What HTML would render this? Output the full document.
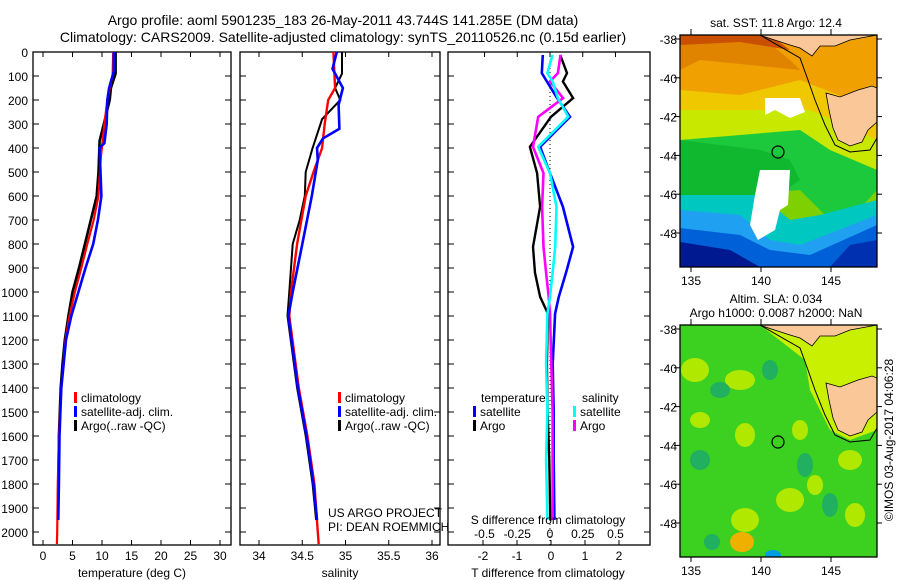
<!DOCTYPE html>
<html><head><meta charset="utf-8"><style>
body{margin:0;background:#fff;}
svg{display:block;font-family:"Liberation Sans",sans-serif;}
text{fill:#000;}
</style></head><body>
<svg id="c" width="900" height="580" viewBox="0 0 900 580">
<text x="343" y="25" font-size="14" text-anchor="middle">Argo profile: aoml 5901235_183 26-May-2011 43.744S 141.285E (DM data)</text>
<text x="343" y="42" font-size="14" text-anchor="middle">Climatology: CARS2009. Satellite-adjusted climatology: synTS_20110526.nc (0.15d earlier)</text>
<g id="maps"></g>
<g id="plots"></g>
<text transform="translate(893,440) rotate(-90)" font-size="12" text-anchor="middle">©IMOS 03-Aug-2017 04:06:28</text>
</svg>
<script>
// ---------- data ----------
const depthTicks=[0,100,200,300,400,500,600,700,800,900,1000,1100,1200,1300,1400,1500,1600,1700,1800,1900,2000];
const tempTicks=[0,5,10,15,20,25,30];
const salTicks=[34,34.5,35,35.5,36];
const salTickLabels=["34","34.5","35","35.5","36"];
const tdTicks=[-2,-1,0,1,2];
const sdTicks=[-0.5,-0.25,0,0.25,0.5];
const sdTickLabels=["-0.5","-0.25","0","0.25","0.5"];

const tArgoDepth=[0,90,150,200,300,370,500,600,700,800,900,1000,1100,1200,1300,1400,1600,1800,1950];
const tArgo=[12.3,12.3,11.5,11.3,10.3,9.6,9.4,9.1,8.1,7.1,6.1,5.0,4.3,3.7,3.3,3.0,2.7,2.6,2.5];
const tClimDepth=[0,100,200,300,440,600,700,800,900,1000,1100,1200,1400,1600,1800,2000,2050];
const tClim=[11.9,11.8,10.9,10.4,9.8,9.4,8.6,7.5,6.5,5.4,4.5,3.8,3.1,2.7,2.5,2.4,2.35];
const tSatDepth=[0,80,150,200,300,380,400,600,700,800,900,1000,1100,1200,1400,1600,1800,1950];
const tSat=[12.0,12.0,11.2,10.9,10.8,10.4,9.6,9.9,9.3,8.5,7.2,6.0,4.8,3.9,3.1,2.8,2.7,2.6];

const sArgoDepth=[0,90,150,200,280,400,500,600,700,800,1000,1100,1400,1600,1800,1950];
const sArgo=[34.96,34.96,34.88,34.94,34.73,34.62,34.54,34.53,34.47,34.39,34.35,34.33,34.44,34.54,34.62,34.66];
const sClimDepth=[0,150,200,300,400,500,600,800,1000,1100,1400,1600,1800,2000,2050];
const sClim=[34.86,34.88,34.80,34.76,34.73,34.63,34.54,34.44,34.37,34.35,34.46,34.56,34.64,34.68,34.69];
const sSatDepth=[0,70,150,220,320,360,400,450,600,800,1000,1100,1400,1600,1800,1950];
const sSat=[34.90,34.85,34.97,34.92,34.93,34.74,34.67,34.68,34.61,34.50,34.39,34.34,34.45,34.55,34.63,34.67];

const dDepth=[12,88,123,192,270,395,505,645,812,920,1020,1090,1300,1500,1700,1950];
const dTArgo=[0.27,0.47,0.35,0.65,0.0,-0.62,-0.41,-0.32,-0.53,-0.47,-0.32,-0.09,-0.12,-0.10,-0.05,-0.02];
const dTSat=[-0.24,-0.27,-0.12,0.18,0.56,-0.32,-0.03,0.35,0.65,0.44,0.23,0.12,0.05,0.08,0.08,0.1];
const dSArgo=[0.08,0.06,0.0,0.1,-0.09,-0.13,-0.05,-0.06,-0.05,-0.03,-0.01,0.0,0.01,0.02,0.02,0.02];
const dSSat=[0.02,-0.02,0.02,0.06,0.14,-0.09,0.0,0.05,0.04,0.02,0.0,-0.02,-0.03,-0.02,-0.03,-0.02];

const NS="http://www.w3.org/2000/svg";
const plots=document.getElementById('plots');
function el(tag,attrs,parent,txt){const e=document.createElementNS(NS,tag);for(const k in attrs)e.setAttribute(k,attrs[k]);if(txt!==undefined)e.textContent=txt;(parent||plots).appendChild(e);return e;}
const TOP=52,BOT=545;
const yD=d=>52+0.24*d;
const xT=t=>43+5.9*t;
const xS=s=>259+86.5*(s-34);
const xDT=t=>551+34*t;
const xDS=s=>550+131*s;

function line(xs,ds,fx,color,name,w){
  const pts=xs.map((v,i)=>fx(v).toFixed(1)+','+yD(ds[i]).toFixed(1)).join(' ');
  const p=el('polyline',{points:pts,fill:'none',stroke:color,'stroke-width':w||2.2,'stroke-linejoin':'miter'});
  
  
}
function frame(x0,x1,name){
  const r=el('rect',{x:x0,y:TOP,width:x1-x0,height:BOT-TOP,fill:'none',stroke:'#000','stroke-width':1.3});
  
  
  depthTicks.forEach(d=>{el('line',{x1:x0,x2:x0+6,y1:yD(d),y2:yD(d),stroke:'#000'});el('line',{x1:x1-6,x2:x1,y1:yD(d),y2:yD(d),stroke:'#000'});});
}
depthTicks.forEach(d=>{const t=el('text',{x:28,y:yD(d)+5,'font-size':12,'text-anchor':'end'},plots,String(d));

});

// panel 1
frame(33,231,'temperature-panel');
tempTicks.forEach(v=>{el('line',{x1:xT(v),x2:xT(v),y1:TOP,y2:TOP+5,stroke:'#000'});el('line',{x1:xT(v),x2:xT(v),y1:BOT-5,y2:BOT,stroke:'#000'});
const t=el('text',{x:xT(v),y:560,'font-size':12,'text-anchor':'middle'},plots,String(v));

});
line(tArgo,tArgoDepth,xT,'#000','temperature-argo-line',2.6);
line(tClim,tClimDepth,xT,'#f00','temperature-climatology-line');
line(tSat,tSatDepth,xT,'#00f','temperature-satellite-line',2.6);

// panel 2
frame(240,440,'salinity-panel');
salTicks.forEach((v,i)=>{el('line',{x1:xS(v),x2:xS(v),y1:TOP,y2:TOP+5,stroke:'#000'});el('line',{x1:xS(v),x2:xS(v),y1:BOT-5,y2:BOT,stroke:'#000'});
const t=el('text',{x:xS(v),y:560,'font-size':12,'text-anchor':'middle'},plots,salTickLabels[i]);

});
line(sArgo,sArgoDepth,xS,'#000','salinity-argo-line',2);
line(sClim,sClimDepth,xS,'#f00','salinity-climatology-line',2.4);
line(sSat,sSatDepth,xS,'#00f','salinity-satellite-line',2.6);

// panel 3
frame(448,650,'difference-panel');
el('line',{x1:550,x2:550,y1:TOP,y2:BOT,stroke:'#000','stroke-dasharray':'1,3'});
tdTicks.forEach(v=>{el('line',{x1:xDT(v),x2:xDT(v),y1:BOT-5,y2:BOT,stroke:'#000'});
const t=el('text',{x:xDT(v),y:560,'font-size':12,'text-anchor':'middle'},plots,String(v));

});
sdTicks.forEach((v,i)=>{el('line',{x1:xDS(v),x2:xDS(v),y1:TOP,y2:TOP+5,stroke:'#000'});
const t=el('text',{x:xDS(v),y:538,'font-size':12,'text-anchor':'middle'},plots,sdTickLabels[i]);

});
line(dTArgo,dDepth,xDT,'#000','t-diff-argo-line',2.4);
line(dTSat,dDepth,xDT,'#00f','t-diff-satellite-line',2.6);
line(dSArgo,dDepth,xDS,'#f0f','s-diff-argo-line',2.6);
line(dSSat,dDepth,xDS,'#0ff','s-diff-satellite-line',2.6);

function txt(x,y,s,name,size,anchor){const t=el('text',{x:x,y:y,'font-size':size||12,'text-anchor':anchor||'start'},plots,s);

}
txt(132,577,'temperature (deg C)','x-axis-title-temperature',12,'middle');
txt(340,577,'salinity','x-axis-title-salinity',12,'middle');
txt(548,577,'T difference from climatology','x-axis-title-t-diff',12,'middle');
txt(548,524,'S difference from climatology','x-axis-title-s-diff',12,'middle');
txt(328,517,'US ARGO PROJECT','project-credit',12);
txt(328,531,'PI: DEAN ROEMMICH','pi-credit',12);
function leg(x,y,color,label,name){el('rect',{x:x,y:y-10,width:3,height:11,fill:color});txt(x+7,y,label,name,12);}
leg(74,402,'#f00','climatology','legend-climatology-temp');
leg(74,416,'#00f','satellite-adj. clim.','legend-satellite-temp');
leg(74,430,'#000','Argo(..raw -QC)','legend-argo-temp');
leg(338,402,'#f00','climatology','legend-climatology-sal');
leg(338,416,'#00f','satellite-adj. clim.','legend-satellite-sal');
leg(338,430,'#000','Argo(..raw -QC)','legend-argo-sal');
txt(481,402,'temperature','legend-title-temperature',12);
leg(473,416,'#00f','satellite','legend-t-satellite');
leg(473,430,'#000','Argo','legend-t-argo');
txt(582,402,'salinity','legend-title-salinity',12);
leg(573,416,'#0ff','satellite','legend-s-satellite');
leg(573,430,'#f0f','Argo','legend-s-argo');

// ---------- maps ----------
const maps=document.getElementById('maps');
function m(tag,attrs,parent,t){return el(tag,attrs,parent||maps,t);}
const lonX=l=>691+14*(l-135);
function drawMap(top,name,kind){
  const g=m('g',{transform:'translate(0,'+(top-35)+')'});
  
  
  const cp='clip'+top;
  const d=m('defs',{},g);const c=m('clipPath',{id:cp},d);m('rect',{x:680,y:35,width:197,height:232},c);
  const b=m('g',{'clip-path':'url(#'+cp+')'},g);
  if(kind==='sst'){
    m('rect',{x:680,y:35,width:197,height:232,fill:'#7fd000'},b);
    m('polygon',{points:'680,35 877,35 877,190 840,230 800,190 680,200',fill:'#1cc83c'},b);
    m('polygon',{points:'680,35 877,35 877,170 830,150 800,130 680,140',fill:'#c8e800'},b);
    m('polygon',{points:'680,35 877,35 877,140 810,110 770,110 680,110',fill:'#f0c800'},b);
    m('polygon',{points:'680,35 877,35 877,110 800,80 740,95 680,90',fill:'#f0a000'},b);
    m('polygon',{points:'680,35 760,35 790,60 800,70 700,60 680,70',fill:'#e08400'},b);
    m('polygon',{points:'680,35 770,35 790,50 740,42 680,45',fill:'#c85000'},b);
    m('polygon',{points:'680,140 760,150 790,160 800,180 770,200 680,200',fill:'#10b830'},b);
    m('polygon',{points:'680,195 760,195 790,220 820,215 877,200 877,267 680,267',fill:'#00c8c0'},b);
    m('polygon',{points:'680,210 740,215 770,240 800,245 877,215 877,267 680,267',fill:'#20a0f0'},b);
    m('polygon',{points:'680,228 740,235 770,250 810,255 877,225 877,267 680,267',fill:'#0060d8'},b);
    m('polygon',{points:'680,242 730,250 760,267 680,267',fill:'#001890'},b);
    m('polygon',{points:'830,267 850,245 877,240 877,267',fill:'#0030b0'},b);
    m('polygon',{points:'765,98 800,98 805,112 790,118 775,110 765,115',fill:'#fff'},b);
    m('polygon',{points:'760,170 790,170 788,205 780,210 775,230 758,240 750,225 755,195',fill:'#fff'},b);
  } else {
    m('rect',{x:680,y:35,width:197,height:232,fill:'#3cd020'},b);
    [[695,80,14,12],[740,90,15,10],[745,145,10,12],[700,130,10,8],[745,230,14,12],[790,210,14,12],[815,195,8,10],[855,225,10,12],[850,170,12,10],[800,140,8,10]].forEach(a=>m('ellipse',{cx:a[0],cy:a[1],rx:a[2],ry:a[3],fill:'#b0e800'},b));
    [[700,170,10,10],[720,100,10,8],[770,80,8,10],[805,175,8,12],[830,215,8,12],[712,252,8,8]].forEach(a=>m('ellipse',{cx:a[0],cy:a[1],rx:a[2],ry:a[3],fill:'#20b060'},b));
    m('ellipse',{cx:742,cy:252,rx:12,ry:10,fill:'#f0b000'},b);
    m('ellipse',{cx:773,cy:265,rx:8,ry:5,fill:'#00a0e0'},b);
    m('polygon',{points:'760,35 877,35 877,140 850,150 830,140 810,100 805,70',fill:'#c8f000'},b);
  }
  m('polygon',{points:'759,35 790,45 800,48 812,56 820,46 835,46 850,40 877,35',fill:'#fac898',stroke:'#000','stroke-width':0.8},b);
  m('polygon',{points:'826,93 840,97 858,90 872,86 877,88 877,122 868,130 862,142 850,146 838,140 833,128 829,110',fill:'#fac898',stroke:'#000','stroke-width':0.8},b);
  m('polyline',{points:'760,35 800,58 808,80 815,100 825,125 835,145 850,152 870,150 877,138',fill:'none',stroke:'#000','stroke-width':1},b);
  m('circle',{cx:778,cy:152,r:6,fill:'none',stroke:'#000','stroke-width':1.2},g);
  m('rect',{x:680,y:35,width:197,height:232,fill:'none',stroke:'#000','stroke-width':1.3},g);
  [-38,-40,-42,-44,-46,-48].forEach(lat=>{const y=39+19.4*(-38-lat);
    m('line',{x1:674,x2:680,y1:y,y2:y,stroke:'#000'},g);m('line',{x1:877,x2:882,y1:y,y2:y,stroke:'#000'},g);
    const t=m('text',{x:677,y:y+5,'font-size':12,'text-anchor':'end'},g,String(lat));
    
    });
  [135,140,145].forEach(lon=>{const x=lonX(lon);
    m('line',{x1:x,x2:x,y1:29,y2:35,stroke:'#000'},g);m('line',{x1:x,x2:x,y1:267,y2:272,stroke:'#000'},g);
    const t=m('text',{x:x,y:285,'font-size':12,'text-anchor':'middle'},g,String(lon));
    
    });
}
drawMap(35,'sst-map','sst');
drawMap(325,'sla-map','sla');
function mt(x,y,s,name){const t=m('text',{x:x,y:y,'font-size':12,'text-anchor':'middle'},maps,s);

}
mt(776,27,'sat. SST: 11.8 Argo: 12.4','sst-map-title');
mt(776,303,'Altim. SLA: 0.034','sla-map-title-1');
mt(776,317,'Argo h1000: 0.0087 h2000: NaN','sla-map-title-2');
</script>
</body></html>
